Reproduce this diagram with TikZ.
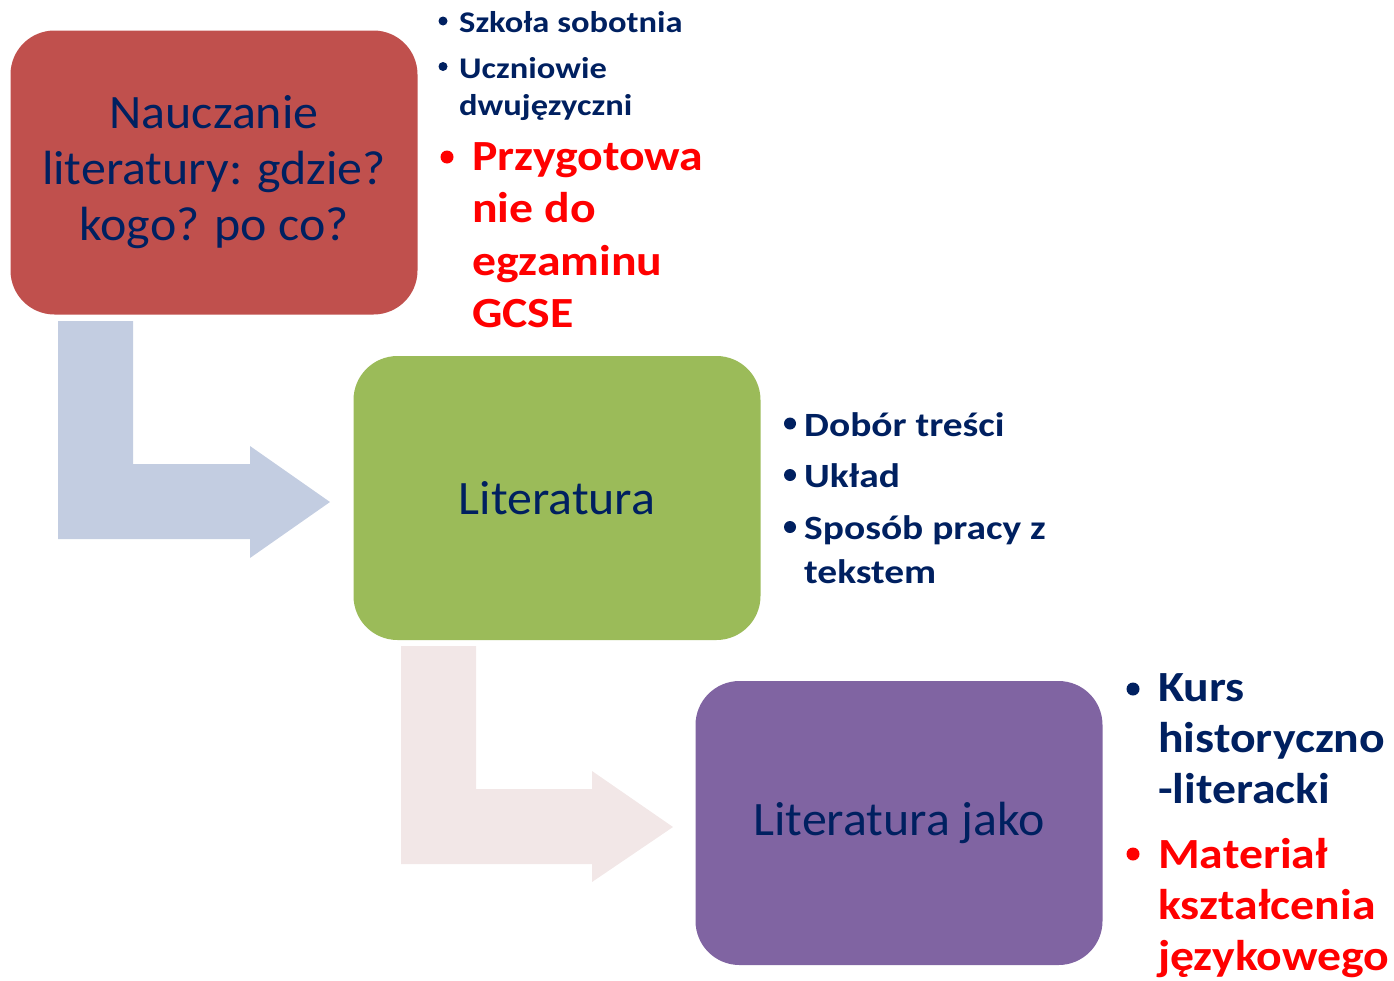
\documentclass[tikz,border=0pt]{standalone}
\usepackage{fontspec}
\setmainfont{Carlito}
\newfontfamily\boxfont[FakeStretch=1.04]{Carlito}
\newfontfamily\smallfont[FakeStretch=1.15]{Carlito}
\newfontfamily\midfont[FakeStretch=1.16]{Carlito}
\newfontfamily\bigfont[FakeStretch=1.11]{Carlito}
\definecolor{navy}{HTML}{002060}
\definecolor{boxred}{HTML}{C0504D}
\definecolor{boxgreen}{HTML}{9BBB59}
\definecolor{boxpurple}{HTML}{8064A2}
\definecolor{arrowblue}{HTML}{C3CDE1}
\definecolor{arrowpink}{HTML}{F2E7E7}
\definecolor{hotred}{HTML}{FF0000}
\begin{document}
\begin{tikzpicture}[x=1pt,y=-1pt,
  box/.style={rounded corners=44pt, inner sep=0pt, minimum width=407pt, minimum height=284pt,
    align=center, text=navy, font=\boxfont\fontsize{48}{56}\selectfont},
  smalltxt/.style={anchor=base west, inner sep=0pt, text=navy, font=\smallfont\fontsize{30}{36}\selectfont\bfseries},
  midtxt/.style={anchor=base west, inner sep=0pt, text=navy, font=\midfont\fontsize{34}{42}\selectfont\bfseries},
  bigtxt/.style={anchor=base west, inner sep=0pt, font=\bigfont\fontsize{43}{52}\selectfont\bfseries},
  dot/.style={circle, inner sep=0pt, minimum size=#1},
]
\useasboundingbox (0,0) rectangle (1394,980);

% bent arrows
\coordinate (tip1) at (330,502);
\fill[arrowblue] (58,321) -- (133,321) -- (133,464) -- (250,464) -- (250,446) -- (tip1)
  -- (250,558) -- (250,539) -- (58,539) -- cycle;
\coordinate (tip2) at (673,827);
\fill[arrowpink] (401,646) -- (476,646) -- (476,789) -- (592,789) -- (592,771) -- (tip2)
  -- (592,882) -- (592,864) -- (401,864) -- cycle;

% boxes
\node[box, fill=boxred] (n1) at (214,172.5) {Nauczanie\\literatury: gdzie?\\kogo? po co?};
\node[box, fill=boxgreen] (n2) at (557,498) {Literatura};
\node[box, fill=boxpurple] (n3) at (899,823) {Literatura jako};

% top bullets
\node[dot=9pt, fill=navy] (b1) at (443,21) {};
\node[smalltxt] (t1) at (459,32) {Szkoła sobotnia};
\node[dot=9pt, fill=navy] (b2) at (443,66.5) {};
\node[smalltxt] (t2a) at (459,78) {Uczniowie};
\node[smalltxt] (t2b) at (459,115) {dwujęzyczni};
\node[dot=13pt, fill=hotred] (b3) at (447,157) {};
\node[bigtxt, text=hotred] (t3a) at (472,170) {Przygotowa};
\node[bigtxt, text=hotred] (t3b) at (472,222.5) {nie do};
\node[bigtxt, text=hotred] (t3c) at (472,275) {egzaminu};
\node[bigtxt, text=hotred] (t3d) at (472,327) {GCSE};

% middle bullets
\node[dot=12pt, fill=navy] (b4) at (790,423.5) {};
\node[midtxt] (t4) at (804,436) {Dobór treści};
\node[dot=12pt, fill=navy] (b5) at (790,475) {};
\node[midtxt] (t5) at (804,487) {Układ};
\node[dot=12pt, fill=navy] (b6) at (790,527) {};
\node[midtxt] (t6a) at (804,539) {Sposób pracy z};
\node[midtxt] (t6b) at (804,583) {tekstem};

% bottom bullets
\node[dot=13pt, fill=navy] (b7) at (1133,689) {};
\node[bigtxt, text=navy] (t7a) at (1158,701) {Kurs};
\node[bigtxt, text=navy] (t7b) at (1158,752) {historyczno};
\node[bigtxt, text=navy] (t7c) at (1158,803) {-literacki};
\node[dot=13pt, fill=hotred] (b8) at (1133,854) {};
\node[bigtxt, text=hotred] (t8a) at (1158,868) {Materiał};
\node[bigtxt, text=hotred] (t8b) at (1158,919) {kształcenia};
\node[bigtxt, text=hotred] (t8c) at (1158,970) {językowego};
\end{tikzpicture}
\end{document}
